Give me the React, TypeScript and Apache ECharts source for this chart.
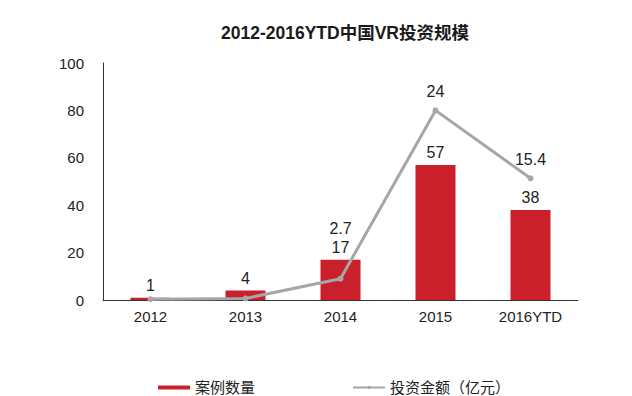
import React, { useEffect, useRef } from "react";
import * as echarts from "echarts";

const categories = ["2012", "2013", "2014", "2015", "2016YTD"];
const caseCounts = [1, 4, 17, 57, 38];
const investment = [0.1, 0.2, 2.7, 24, 15.4];
const investmentLabelShown = [false, false, true, true, true];
const investmentLabelOffsetY = [0, 0, -31, 0, 0];
const yTicks = { min: 0, max: 100, interval: 20 };

const FONT = "'Liberation Sans', Arial, 'Noto Sans CJK SC', sans-serif";

export default function App() {
  const ref = useRef<HTMLDivElement>(null);
  useEffect(() => {
    if (!ref.current) return;
    const chart = echarts.init(ref.current, undefined, { renderer: "svg" });
    chart.setOption({
      animation: false,
      backgroundColor: "#ffffff",
      textStyle: { fontFamily: FONT },
      title: {
        text: "2012-2016YTD中国VR投资规模",
        left: 340,
        textAlign: "center",
        top: 19,
        textStyle: { fontSize: 17.5, fontWeight: "bold", color: "#1a1a1a", fontFamily: FONT },
      },
      legend: {
        left: 153,
        top: 375,
        itemWidth: 32,
        itemHeight: 4,
        itemGap: 97,
        textStyle: { fontSize: 15, color: "#222", fontFamily: FONT },
        data: [
          { name: "案例数量", icon: "rect" },
          { name: "投资金额（亿元）" },
        ],
      },
      grid: { left: 103, right: 54, top: 63, bottom: 96, containLabel: false },
      xAxis: {
        type: "category",
        data: categories,
        axisTick: { show: false },
        axisLine: { lineStyle: { color: "#333", width: 1 } },
        axisLabel: { fontSize: 15, color: "#222", margin: 9, fontFamily: FONT },
      },
      yAxis: [
        {
          type: "value",
          min: yTicks.min,
          max: yTicks.max,
          interval: yTicks.interval,
          axisLine: { show: true, lineStyle: { color: "#333", width: 1 } },
          axisTick: { show: false },
          splitLine: { show: false },
          axisLabel: { fontSize: 15, color: "#222", margin: 19, fontFamily: FONT },
        },
        {
          type: "value",
          min: 0,
          max: 30,
          show: false,
          splitLine: { show: false },
        },
      ],
      series: [
        {
          name: "案例数量",
          type: "bar",
          data: caseCounts,
          barWidth: 40,
          itemStyle: { color: "#C9202B" },
          label: {
            show: true,
            position: "top",
            distance: 4,
            fontSize: 16,
            color: "#222",
            fontFamily: FONT,
          },
        },
        {
          name: "投资金额（亿元）",
          type: "line",
          yAxisIndex: 1,
          data: investment.map((v, i) => ({
            value: v,
            label: {
              show: investmentLabelShown[i],
              offset: [0, investmentLabelOffsetY[i]],
            },
          })),
          lineStyle: { color: "#A6A6A6", width: 3 },
          itemStyle: { color: "#A6A6A6" },
          symbol: "circle",
          symbolSize: 6,
          label: {
            position: "top",
            distance: 8,
            fontSize: 16,
            color: "#222",
            fontFamily: FONT,
          },
        },
      ],
    });
    return () => chart.dispose();
  }, []);
  return (
    <div
      ref={ref}
      style={{ position: "fixed", left: 0, top: 0, width: 632, height: 396 }}
    />
  );
}
